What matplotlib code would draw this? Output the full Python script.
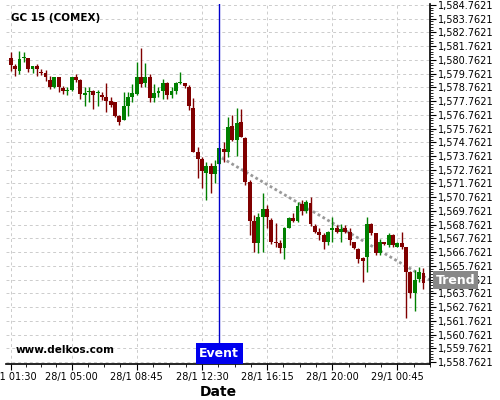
import matplotlib
matplotlib.use("Agg")
import matplotlib.pyplot as plt
from matplotlib.ticker import FixedLocator, FuncFormatter, MultipleLocator, AutoMinorLocator

# 15-minute candles, x = bar index (gaps in time are skipped)
OPEN = [1580.91, 1580.30, 1579.94, 1580.90, 1580.91, 1580.11, 1580.28, 1579.87, 1579.82, 1579.33,
        1578.77, 1579.48, 1578.73, 1578.48, 1578.60, 1579.50, 1579.33, 1578.22, 1578.39, 1578.53,
        1578.34, 1578.24, 1578.05, 1577.80, 1577.66, 1576.71, 1576.35, 1577.44, 1578.05, 1578.29,
        1579.55, 1579.07, 1579.55, 1578.00, 1578.34, 1578.48, 1579.07, 1578.17, 1578.48, 1579.06,
        1579.06, 1578.81, 1577.26, 1574.08, 1573.55, 1572.55, 1573.03, 1572.43, 1573.18, 1574.25,
        1574.08, 1575.95, 1574.93, 1576.26, 1575.10, 1571.89, 1569.05, 1567.40, 1569.30, 1569.90,
        1569.10, 1567.50, 1567.40, 1567.04, 1568.54, 1569.27, 1569.03, 1570.27, 1569.76, 1570.32,
        1568.67, 1568.25, 1568.01, 1567.52, 1568.37, 1568.50, 1568.21, 1568.50, 1568.25, 1567.48,
        1566.97, 1566.31, 1566.38, 1568.81, 1568.13, 1566.72, 1567.48, 1567.25, 1568.01, 1567.16,
        1567.40, 1567.11, 1565.34, 1563.76, 1564.78, 1565.22]
HIGH = [1581.37, 1580.47, 1581.44, 1581.32, 1580.93, 1580.35, 1580.43, 1580.09, 1580.06, 1579.62,
        1579.48, 1579.50, 1578.85, 1578.77, 1579.55, 1579.72, 1579.38, 1578.77, 1578.82, 1578.58,
        1578.58, 1578.41, 1579.09, 1578.05, 1577.73, 1576.78, 1578.41, 1578.41, 1579.02, 1580.60,
        1581.64, 1580.55, 1579.75, 1579.02, 1578.77, 1579.38, 1579.14, 1578.77, 1579.14, 1579.90,
        1579.10, 1578.93, 1577.96, 1574.44, 1573.71, 1573.35, 1573.23, 1573.47, 1574.32, 1574.80,
        1576.63, 1576.75, 1577.24, 1577.16, 1575.17, 1572.00, 1569.47, 1569.59, 1571.05, 1570.20,
        1569.27, 1568.86, 1567.64, 1568.59, 1569.35, 1569.59, 1570.43, 1570.56, 1570.56, 1570.80,
        1568.79, 1568.50, 1568.13, 1568.30, 1569.30, 1568.74, 1568.81, 1568.74, 1568.50, 1567.52,
        1567.04, 1566.38, 1569.34, 1568.86, 1568.18, 1567.70, 1567.52, 1568.13, 1568.09, 1567.52,
        1568.25, 1567.16, 1565.41, 1565.46, 1565.70, 1565.58]
LOW = [1579.94, 1579.62, 1579.75, 1580.59, 1579.87, 1579.82, 1579.58, 1579.67, 1579.26, 1578.65,
       1578.70, 1578.41, 1578.29, 1578.17, 1578.53, 1579.14, 1577.92, 1577.37, 1577.68, 1577.20,
       1577.44, 1577.85, 1577.00, 1577.32, 1576.59, 1576.03, 1576.35, 1576.71, 1577.68, 1578.17,
       1578.77, 1578.77, 1577.68, 1577.68, 1578.05, 1577.92, 1577.92, 1578.00, 1578.29, 1579.01,
       1578.74, 1577.11, 1574.05, 1572.14, 1571.41, 1570.56, 1571.05, 1571.82, 1573.18, 1573.35,
       1573.71, 1574.86, 1573.76, 1575.15, 1571.65, 1568.00, 1566.77, 1566.67, 1566.79, 1568.50,
       1567.33, 1567.16, 1566.67, 1566.26, 1568.50, 1568.96, 1568.96, 1569.47, 1569.59, 1568.69,
       1568.13, 1567.64, 1566.99, 1567.28, 1567.52, 1568.13, 1567.48, 1568.13, 1567.28, 1566.97,
       1565.95, 1564.56, 1565.34, 1568.01, 1566.55, 1566.55, 1567.25, 1567.16, 1567.16, 1567.11,
       1566.97, 1561.94, 1563.40, 1562.49, 1564.61, 1564.05]
CLOSE = [1580.40, 1580.11, 1580.84, 1580.96, 1580.11, 1580.28, 1580.09, 1579.80, 1579.50, 1578.77,
         1579.48, 1578.77, 1578.48, 1578.58, 1579.48, 1579.31, 1578.29, 1578.34, 1578.53, 1578.22,
         1578.41, 1578.05, 1577.80, 1577.51, 1576.71, 1576.23, 1577.37, 1578.05, 1578.34, 1579.55,
         1579.02, 1579.55, 1578.00, 1578.34, 1578.48, 1579.07, 1578.17, 1578.53, 1579.07, 1579.18,
         1578.86, 1577.40, 1574.08, 1573.55, 1572.69, 1573.03, 1572.43, 1573.03, 1574.32, 1574.08,
         1575.90, 1574.93, 1576.14, 1575.17, 1571.89, 1569.05, 1567.40, 1569.30, 1569.90, 1569.30,
         1567.48, 1567.43, 1567.04, 1568.54, 1569.27, 1569.03, 1570.14, 1569.76, 1570.43, 1568.79,
         1568.25, 1568.01, 1567.52, 1568.25, 1568.50, 1568.21, 1568.43, 1568.25, 1567.65, 1567.04,
         1566.24, 1566.14, 1568.81, 1568.18, 1566.72, 1567.52, 1567.35, 1568.01, 1567.25, 1567.45,
         1567.11, 1565.34, 1563.76, 1564.73, 1565.34, 1564.54]

TICK_IDX = [0, 14, 29, 44, 59, 74, 89]
TICK_LABELS = ["28/1 01:30", "28/1 05:00", "28/1 08:45", "28/1 12:30",
               "28/1 16:15", "28/1 20:00", "29/1 00:45"]

EVENT_IDX = 48
TREND_X = [48.6, 96.5]
TREND_Y = [1573.62, 1564.72]

UP, DOWN = "#008000", "#800000"

fig = plt.figure(figsize=(5, 4), dpi=100)
ax = fig.add_axes([0.012, 0.09, 0.848, 0.90])

idx = list(range(len(OPEN)))
colors = [UP if c >= o else DOWN for o, c in zip(OPEN, CLOSE)]
bottoms = [min(o, c) for o, c in zip(OPEN, CLOSE)]
heights = [max(abs(c - o), 0.05) for o, c in zip(OPEN, CLOSE)]

ax.vlines(idx, LOW, HIGH, colors=colors, linewidth=1.0, zorder=3)
ax.bar(idx, heights, bottom=bottoms, width=0.9, color=colors, linewidth=0, zorder=3)

# trend line + label
ax.plot(TREND_X, TREND_Y, color="#999999", linewidth=2, linestyle=(0, (1, 1)), zorder=2)
ax.annotate("Trend", xy=(1.0, TREND_Y[-1]), xycoords=("axes fraction", "data"),
            xytext=(4, 0), textcoords="offset points", ha="left", va="center",
            color="white", fontsize=9, fontweight="bold", zorder=6, annotation_clip=False,
            bbox=dict(boxstyle="square,pad=0.2", fc="#888888", ec="none"))

# event marker
ax.axvline(EVENT_IDX, color="#0000cc", linewidth=1, zorder=4)
ax.annotate("Event", xy=(EVENT_IDX, 0), xycoords=("data", "axes fraction"),
            xytext=(0, 3), textcoords="offset points", ha="center", va="bottom",
            color="white", fontsize=9, fontweight="bold", zorder=6,
            bbox=dict(boxstyle="square,pad=0.3", fc="#0000ee", ec="none"))

ax.text(0.012, 0.975, "GC 15 (COMEX)", transform=ax.transAxes, ha="left", va="top",
        fontsize=7.5, fontweight="bold")
ax.text(0.022, 0.025, "www.delkos.com", transform=ax.transAxes, ha="left", va="bottom",
        fontsize=7.5, fontweight="bold")

ax.set_xlim(-1.1, 96.5)
ax.set_ylim(1558.62, 1584.83)

# x axis
minor = []
for a, b in zip(TICK_IDX[:-1], TICK_IDX[1:]):
    minor += [a + (b - a) * k / 4 for k in (1, 2, 3)]
minor += [TICK_IDX[-1] + 15 * k / 4 for k in (1, 2, 3)]
ax.xaxis.set_major_locator(FixedLocator(TICK_IDX))
ax.xaxis.set_minor_locator(FixedLocator(minor))
ax.set_xticklabels(TICK_LABELS)
ax.set_xlabel("Date", fontsize=10, fontweight="bold", labelpad=2)

# y axis on the right
ax.yaxis.tick_right()
ax.yaxis.set_major_locator(MultipleLocator(1.0, offset=0.7621))
ax.yaxis.set_minor_locator(AutoMinorLocator(5))
ax.yaxis.set_major_formatter(FuncFormatter(lambda v, p: f"{v:,.4f}"))

ax.tick_params(axis="both", which="major", labelsize=7, length=4, width=0.8, pad=2)
ax.tick_params(axis="both", which="minor", length=2, width=0.6)

for s in ("top", "left"):
    ax.spines[s].set_visible(False)
for s in ("right", "bottom"):
    ax.spines[s].set_linewidth(1.2)

ax.grid(True, which="major", color="#cccccc", linestyle=(0, (3, 3)), linewidth=0.7)
ax.set_axisbelow(True)

fig.savefig("out.png", dpi=100)
